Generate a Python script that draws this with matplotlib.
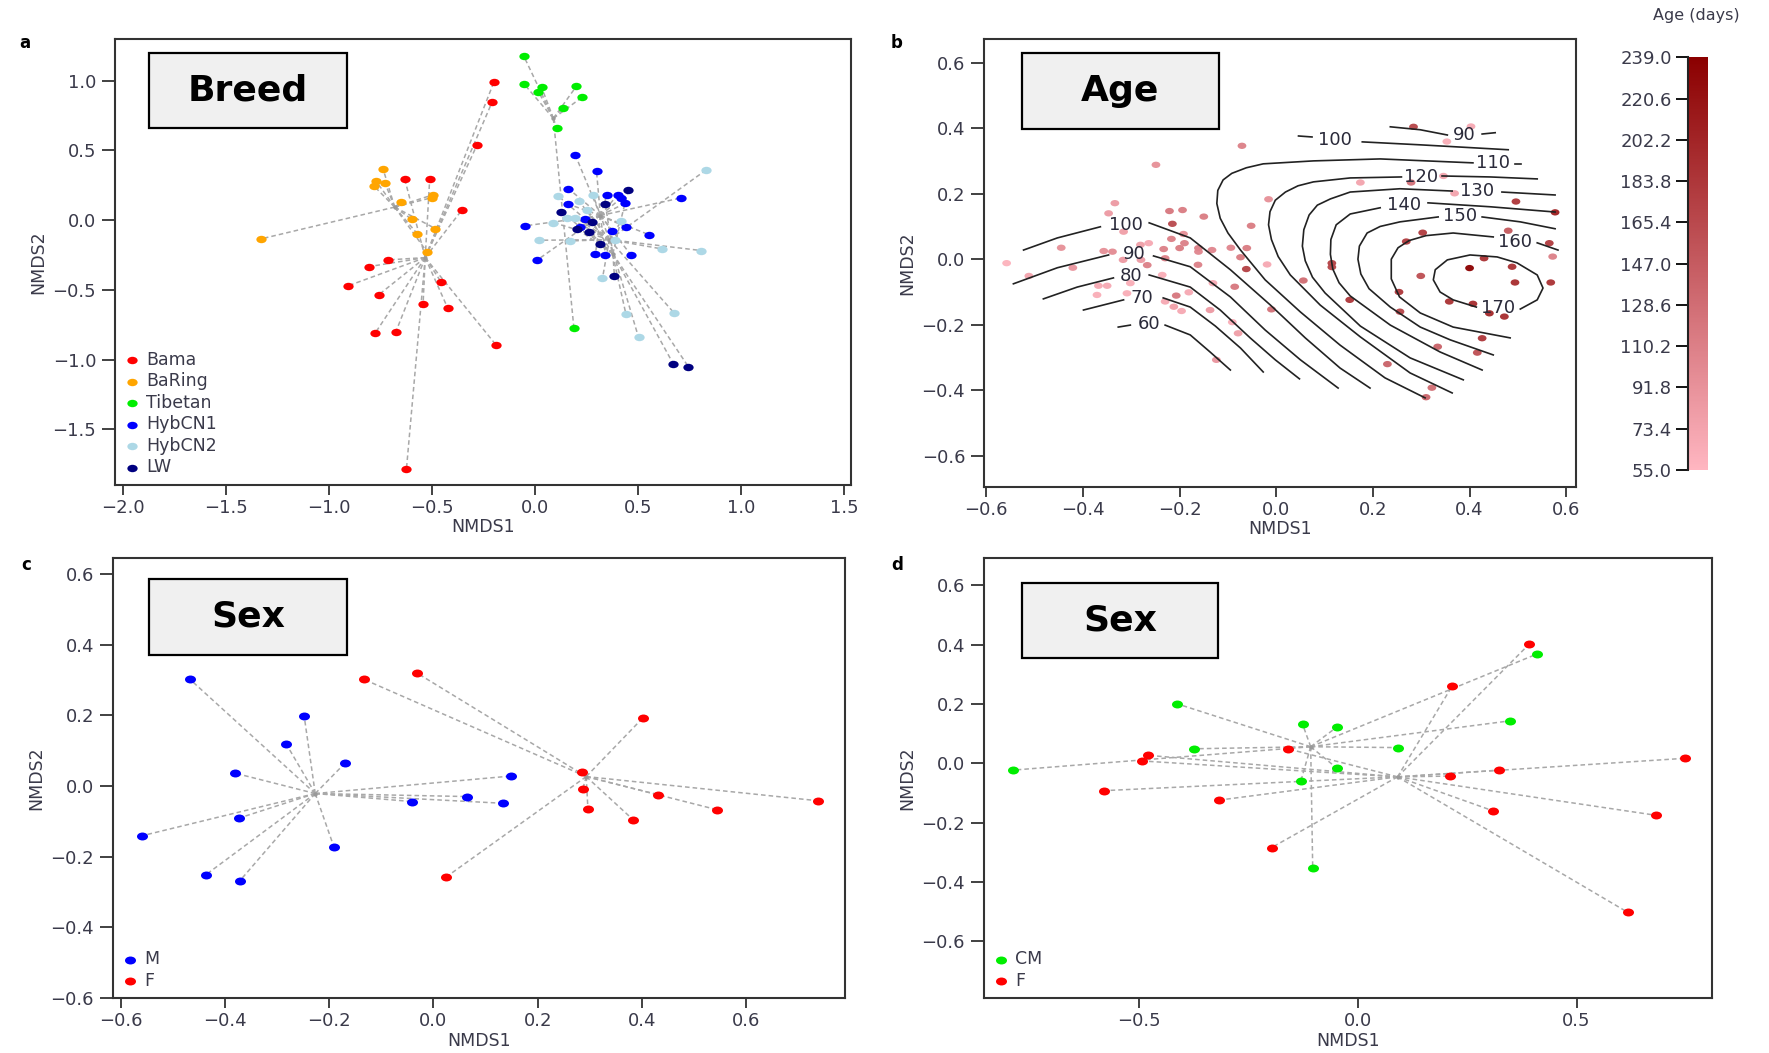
import matplotlib
matplotlib.use("Agg")
import matplotlib.pyplot as plt
import numpy as np
from matplotlib.cm import ScalarMappable
from matplotlib.colors import LinearSegmentedColormap, Normalize
from matplotlib.markers import MarkerStyle
from matplotlib.patches import Rectangle
from matplotlib.path import Path
from matplotlib.ticker import FuncFormatter
from matplotlib.transforms import Affine2D

plt.rcParams["font.family"] = ["DejaVu Sans"]

# ---------------- panel a: breed ----------------
BREEDS = ["Bama", "BaRing", "Tibetan", "HybCN1", "HybCN2", "LW"]
BREED_COLORS = ["#ff0000", "#ffa500", "#00ee00", "#0000ff", "#add8e6", "#000080"]

BAMA_X = [-0.633, -0.512, -0.713, -0.806, -0.910, -0.760, -0.456, -0.544, -0.424,
          -0.777, -0.676, -0.625, -0.201, -0.209, -0.282, -0.356, -0.190]
BAMA_Y = [0.294, 0.294, -0.285, -0.333, -0.472, -0.536, -0.445, -0.603, -0.632,
          -0.811, -0.800, -1.788, 0.988, 0.847, 0.540, 0.072, -0.895]
BARING_X = [-0.738, -0.774, -0.729, -0.783, -0.496, -0.500, -0.650, -0.600, -0.573,
            -0.485, -0.525, -1.330]
BARING_Y = [0.366, 0.284, 0.266, 0.246, 0.182, 0.162, 0.131, 0.007, -0.096,
            -0.060, -0.228, -0.134]
TIBETAN_X = [-0.056, -0.053, 0.031, 0.015, 0.200, 0.229, 0.137, 0.105, 0.188]
TIBETAN_Y = [1.180, 0.976, 0.955, 0.923, 0.960, 0.883, 0.808, 0.660, -0.771]
HYB1_X = [0.196, 0.298, 0.161, 0.349, 0.401, 0.417, 0.438, 0.161, 0.710, -0.050,
          0.240, 0.220, 0.375, 0.443, 0.554, 0.011, 0.293, 0.341, 0.465]
HYB1_Y = [0.464, 0.352, 0.227, 0.184, 0.184, 0.158, 0.122, 0.115, 0.160, -0.041,
          0.007, -0.046, -0.075, -0.050, -0.105, -0.285, -0.242, -0.247, -0.249]
HYB2_X = [0.829, 0.111, 0.280, 0.213, 0.253, 0.156, 0.196, 0.088, 0.419, 0.019,
          0.169, 0.390, 0.615, 0.807, 0.327, 0.441, 0.673, 0.502]
HYB2_Y = [0.359, 0.174, 0.184, 0.136, 0.074, 0.019, 0.019, -0.017, -0.005, -0.144,
          -0.149, -0.144, -0.206, -0.218, -0.416, -0.675, -0.663, -0.840]
LW_X = [0.451, 0.341, 0.127, 0.277, 0.201, 0.261, 0.317, 0.385, 0.670, 0.744]
LW_Y = [0.215, 0.117, 0.062, -0.010, -0.060, -0.082, -0.172, -0.400, -1.029, -1.051]

# ---------------- panel b: age ----------------
AGE_X = [-0.558, -0.512, -0.445, -0.421, -0.368, -0.350, -0.371, -0.347, -0.334, -0.357,
         -0.339, -0.317, -0.316, -0.302, -0.309, -0.281, -0.264, -0.280, -0.267, -0.249,
         -0.233, -0.230, -0.236, -0.230, -0.221, -0.215, -0.217, -0.194, -0.200, -0.190,
         -0.192, -0.207, -0.212, -0.196, -0.181, -0.161, -0.161, -0.162, -0.150, -0.133,
         -0.131, -0.137, -0.124, -0.094, -0.071, -0.074, -0.086, -0.091, -0.079, -0.061,
         -0.052, -0.062, -0.016, -0.019, -0.010, 0.056, 0.115, 0.115, 0.152, 0.256,
         0.230, 0.310, 0.284, 0.403, 0.353, 0.174, 0.346, 0.279, 0.369, 0.496,
         0.577, 0.480, 0.565, 0.572, 0.303, 0.269, 0.299, 0.400, 0.430, 0.488,
         0.494, 0.568, 0.254, 0.358, 0.407, 0.441, 0.472, 0.426, 0.334, 0.416, 0.322]
AGE_Y = [-0.012, -0.051, 0.035, -0.026, -0.081, -0.081, -0.109, 0.140, 0.171, 0.025,
         0.023, -0.002, 0.084, -0.073, -0.104, 0.044, 0.049, -0.002, -0.018, 0.288,
         0.031, 0.003, -0.048, -0.129, 0.147, 0.108, 0.062, 0.150, 0.034, 0.049,
         0.077, -0.111, -0.145, -0.158, -0.101, 0.034, 0.023, -0.017, 0.130, 0.028,
         -0.073, -0.155, -0.307, 0.035, 0.346, 0.006, -0.084, -0.192, -0.226, 0.034,
         0.102, -0.030, 0.183, -0.016, -0.153, -0.065, -0.012, -0.024, -0.124, -0.160,
         -0.320, -0.421, 0.404, 0.405, 0.359, 0.234, 0.254, 0.234, 0.201, 0.176,
         0.143, 0.087, 0.049, 0.008, 0.081, 0.054, -0.051, -0.027, 0.003, -0.023,
         -0.071, -0.071, -0.100, -0.129, -0.136, -0.165, -0.175, -0.241, -0.267, -0.285, -0.392]
AGE_DAYS = [60, 75, 95, 90, 70, 70, 65, 85, 85, 95,
            100, 85, 80, 65, 65, 80, 70, 85, 110, 95,
            110, 110, 65, 70, 120, 165, 110, 115, 115, 110,
            95, 120, 80, 70, 70, 110, 105, 110, 115, 105,
            70, 85, 90, 105, 110, 115, 120, 65, 80, 115,
            115, 175, 95, 70, 125, 130, 175, 170, 185, 170,
            140, 140, 170, 70, 65, 75, 75, 125, 75, 185,
            210, 150, 180, 110, 180, 180, 160, 239, 190, 190,
            195, 190, 185, 190, 195, 200, 195, 185, 140, 160, 130]
AGE_TICKS = [55.0, 73.4, 91.8, 110.2, 128.6, 147.0, 165.4, 183.8, 202.2, 220.6, 239.0]

# fitted-surface contour lines: one list of segments per level
C60 = [[(-0.327, -0.207), (-0.302, -0.201)],
       [(-0.230, -0.201), (-0.178, -0.231), (-0.137, -0.283), (-0.095, -0.338)]]
C70 = [[(-0.399, -0.155), (-0.316, -0.124)],
       [(-0.234, -0.118), (-0.178, -0.146), (-0.126, -0.204), (-0.074, -0.271), (-0.027, -0.344)]]
C80 = [[(-0.482, -0.121), (-0.412, -0.085), (-0.337, -0.057)],
       [(-0.263, -0.048), (-0.178, -0.085), (-0.116, -0.155), (-0.054, -0.240),
        (-0.002, -0.307), (0.048, -0.365)]]
C90 = [[(-0.544, -0.075), (-0.453, -0.026), (-0.347, 0.013)],
       [(-0.254, 0.010), (-0.178, -0.023), (-0.095, -0.115), (-0.023, -0.216),
        (0.050, -0.307), (0.128, -0.393)],
       [(0.236, 0.404), (0.298, 0.395), (0.354, 0.379)],
       [(0.426, 0.382), (0.453, 0.386)]]
C100 = [[(-0.523, 0.028), (-0.453, 0.065), (-0.364, 0.099)],
        [(-0.263, 0.111), (-0.178, 0.065), (-0.095, -0.032), (-0.012, -0.140),
         (0.060, -0.240), (0.132, -0.332), (0.194, -0.393)],
        [(0.046, 0.376), (0.074, 0.373)],
        [(0.178, 0.358), (0.298, 0.349), (0.480, 0.334)]]
C110 = [[(0.308, -0.423), (0.225, -0.362), (0.132, -0.262), (0.050, -0.161), (-0.023, -0.063),
         (-0.074, 0.028), (-0.100, 0.080), (-0.116, 0.125), (-0.123, 0.170), (-0.121, 0.210),
         (-0.110, 0.242), (-0.092, 0.262), (-0.062, 0.279), (-0.027, 0.291), (0.077, 0.300),
         (0.215, 0.306), (0.407, 0.294)],
        [(0.494, 0.291), (0.507, 0.291)]]
C120 = [[(0.364, -0.408), (0.277, -0.347), (0.174, -0.237), (0.091, -0.140), (0.029, -0.048),
         (0.004, 0.008), (-0.010, 0.060), (-0.016, 0.105), (-0.013, 0.145), (-0.002, 0.180),
         (0.019, 0.205), (0.045, 0.224), (0.077, 0.236), (0.153, 0.248), (0.259, 0.251)],
        [(0.343, 0.254), (0.443, 0.251), (0.540, 0.245)]]
C130 = [[(0.387, -0.368), (0.277, -0.301), (0.174, -0.204), (0.101, -0.103), (0.075, -0.055),
         (0.060, -0.005), (0.054, 0.040), (0.057, 0.090), (0.068, 0.135), (0.085, 0.165),
         (0.112, 0.184), (0.153, 0.205), (0.256, 0.215), (0.364, 0.208)],
        [(0.467, 0.205), (0.577, 0.196)]]
C140 = [[(0.426, -0.338), (0.339, -0.283), (0.236, -0.201), (0.153, -0.112), (0.130, -0.072),
         (0.117, -0.030), (0.112, 0.015), (0.113, 0.060), (0.124, 0.105), (0.153, 0.138),
         (0.215, 0.157)],
        [(0.314, 0.172), (0.443, 0.160), (0.577, 0.144)]]
C150 = [[(0.449, -0.292), (0.360, -0.246), (0.298, -0.207), (0.236, -0.146), (0.192, -0.090),
         (0.175, -0.045), (0.169, 0.000), (0.172, 0.040), (0.188, 0.080), (0.215, 0.100),
         (0.256, 0.114), (0.335, 0.129)],
        [(0.426, 0.129), (0.505, 0.114), (0.577, 0.093)]]
C160 = [[(0.484, -0.240), (0.366, -0.207), (0.298, -0.164), (0.255, -0.115), (0.238, -0.060),
         (0.238, 0.000), (0.252, 0.035), (0.275, 0.057), (0.310, 0.072), (0.366, 0.080), (0.449, 0.068)],
        [(0.540, 0.050), (0.583, 0.028)]]
C170 = [[(0.505, -0.152), (0.540, -0.124), (0.552, -0.088), (0.540, -0.048), (0.498, -0.011),
         (0.457, 0.007), (0.401, 0.013), (0.354, -0.002), (0.329, -0.032), (0.325, -0.063),
         (0.339, -0.100), (0.366, -0.124), (0.401, -0.140), (0.414, -0.146)]]
CONTOURS = [C60, C70, C80, C90, C100, C110, C120, C130, C140, C150, C160, C170]
CONTOUR_LABELS = ["60", "70", "80", "90", "100", "90", "100", "110", "120", "130",
                  "140", "150", "160", "170"]
CONTOUR_LABEL_X = [-0.263, -0.279, -0.300, -0.294, -0.312, 0.389, 0.122, 0.449, 0.300,
                   0.416, 0.265, 0.381, 0.494, 0.459]
CONTOUR_LABEL_Y = [-0.198, -0.118, -0.051, 0.016, 0.105, 0.379, 0.364, 0.294, 0.251,
                   0.208, 0.166, 0.132, 0.053, -0.149]

# ---------------- panel c: sex (M / F) ----------------
C_M_X = [-0.467, -0.248, -0.282, -0.170, -0.380, -0.373, -0.559, -0.191, -0.437, -0.371,
         -0.042, 0.148, 0.065, 0.133]
C_M_Y = [0.302, 0.199, 0.118, 0.064, 0.036, -0.091, -0.141, -0.172, -0.252, -0.268,
         -0.044, 0.028, -0.030, -0.049]
C_F_X = [-0.134, -0.031, 0.024, 0.401, 0.284, 0.286, 0.296, 0.431, 0.543, 0.738, 0.383]
C_F_Y = [0.302, 0.319, -0.258, 0.192, 0.040, -0.009, -0.064, -0.025, -0.067, -0.042, -0.096]

# ---------------- panel d: sex (CM / F) ----------------
D_CM_X = [-0.414, -0.789, -0.374, -0.126, -0.048, -0.048, -0.130, -0.103, 0.092, 0.347, 0.409]
D_CM_Y = [0.201, -0.023, 0.049, 0.131, 0.122, -0.016, -0.059, -0.354, 0.053, 0.143, 0.368]
D_F_X = [-0.479, -0.494, -0.579, -0.317, -0.160, -0.197, 0.392, 0.216, 0.211, 0.323,
         0.749, 0.309, 0.681, 0.617]
D_F_Y = [0.027, 0.008, -0.092, -0.124, 0.049, -0.284, 0.402, 0.261, -0.043, -0.023,
         0.017, -0.160, -0.175, -0.502]

TICK_COLOR = "#3a3a4a"
SPIDER_COLOR = "#a8a8a8"
DOT = MarkerStyle(Path.unit_circle().transformed(Affine2D().scale(1.0, 0.72)))


def minus_fmt(v, _pos):
    return f"{v:.1f}".replace("-", "\u2212")


def style_axes(ax, xlim, ylim, xticks, yticks):
    ax.set_xlim(xlim)
    ax.set_ylim(ylim)
    ax.set_xticks(xticks)
    ax.set_yticks(yticks)
    ax.xaxis.set_major_formatter(FuncFormatter(minus_fmt))
    ax.yaxis.set_major_formatter(FuncFormatter(minus_fmt))
    for sp in ax.spines.values():
        sp.set_linewidth(1.5)
        sp.set_color("#333333")
    ax.tick_params(axis="x", length=7, width=1.3, pad=3, labelsize=13,
                   labelcolor=TICK_COLOR, color="#333333")
    ax.tick_params(axis="y", length=9.5, width=1.3, pad=4, labelsize=13,
                   labelcolor=TICK_COLOR, color="#333333")
    ax.set_xlabel("NMDS1", fontsize=12.5, color=TICK_COLOR, labelpad=1)
    ax.set_ylabel("NMDS2", fontsize=12.5, color=TICK_COLOR, labelpad=4)


def title_box(ax, text, x0, y0, x1, y1):
    ax.add_patch(Rectangle((x0, y0), x1 - x0, y1 - y0, transform=ax.transAxes,
                           facecolor="#f0f0f0", edgecolor="black", lw=1.6, zorder=5))
    ax.text((x0 + x1) / 2, (y0 + y1) / 2, text, transform=ax.transAxes, ha="center",
            va="center", fontsize=26, fontweight="bold", zorder=6)


def draw_spider(ax, xs, ys, color, label, size):
    cx, cy = np.mean(xs), np.mean(ys)
    for x, y in zip(xs, ys):
        ax.plot([cx, x], [cy, y], color=SPIDER_COLOR, lw=1.1, ls=(0, (3, 2)), zorder=1)
    ax.scatter([cx], [cy], s=10, color="#999999", linewidths=0, zorder=2)
    ax.scatter(xs, ys, s=size, color=color, marker=DOT, linewidths=0, zorder=3, label=label)


def add_legend(ax):
    ax.legend(loc="lower left", frameon=False, fontsize=12.5, handletextpad=0.3,
              labelspacing=0.2, borderaxespad=0.2, handlelength=1.0, borderpad=0.3,
              labelcolor=TICK_COLOR)


fig = plt.figure(figsize=(17.69, 10.53), dpi=100)

# panel a
ax_a = fig.add_axes([0.0650, 0.5394, 0.4161, 0.4236])
groups = [(BAMA_X, BAMA_Y), (BARING_X, BARING_Y), (TIBETAN_X, TIBETAN_Y),
          (HYB1_X, HYB1_Y), (HYB2_X, HYB2_Y), (LW_X, LW_Y)]
for (gx, gy), color, name in zip(groups, BREED_COLORS, BREEDS):
    draw_spider(ax_a, gx, gy, color, name, 55)
style_axes(ax_a, (-2.04, 1.534), (-1.90, 1.30), np.arange(-2.0, 1.51, 0.5), np.arange(-1.5, 1.01, 0.5))
title_box(ax_a, "Breed", 0.046, 0.80, 0.315, 0.969)
add_legend(ax_a)

# panel b
ax_b = fig.add_axes([0.5562, 0.5378, 0.3349, 0.4252])
cmap = LinearSegmentedColormap.from_list("age", ["#ffb6c1", "#8b0000"])
norm = Normalize(vmin=AGE_TICKS[0], vmax=AGE_TICKS[-1])
ax_b.scatter(AGE_X, AGE_Y, c=AGE_DAYS, cmap=cmap, norm=norm, s=40, marker=DOT,
             linewidths=0, alpha=0.95, zorder=2)
for level in CONTOURS:
    for seg in level:
        xs, ys = zip(*seg)
        ax_b.plot(xs, ys, color="#222222", lw=1.2, zorder=3, solid_joinstyle="round")
for lab, lx, ly in zip(CONTOUR_LABELS, CONTOUR_LABEL_X, CONTOUR_LABEL_Y):
    ax_b.text(lx, ly, lab, ha="center", va="center", fontsize=13, color="#2a2a3a", zorder=4)
style_axes(ax_b, (-0.605, 0.621), (-0.694, 0.672), np.arange(-0.6, 0.61, 0.2), np.arange(-0.6, 0.61, 0.2))
title_box(ax_b, "Age", 0.064, 0.80, 0.396, 0.969)

# colorbar
cax = fig.add_axes([0.9540, 0.5537, 0.0117, 0.3919])
cb = fig.colorbar(ScalarMappable(norm=norm, cmap=cmap), cax=cax, ticks=AGE_TICKS)
cb.outline.set_visible(False)
cax.yaxis.set_ticks_position("left")
cax.yaxis.set_label_position("left")
cb.set_ticklabels([f"{t:.1f}" for t in AGE_TICKS])
cax.tick_params(length=8.5, width=1.3, labelsize=13, pad=3, labelcolor=TICK_COLOR)
cax.plot([0, 0], [0, 1], transform=cax.transAxes, color="#222222", lw=1.5, clip_on=False)
fig.text(0.959, 0.985, "Age (days)", ha="center", va="center", fontsize=11.5, color=TICK_COLOR)

# panel c
ax_c = fig.add_axes([0.0637, 0.0519, 0.4140, 0.4185])
draw_spider(ax_c, C_M_X, C_M_Y, "#0000ff", "M", 63)
draw_spider(ax_c, C_F_X, C_F_Y, "#ff0000", "F", 63)
style_axes(ax_c, (-0.615, 0.789), (-0.601, 0.646), np.arange(-0.6, 0.61, 0.2), np.arange(-0.6, 0.61, 0.2))
title_box(ax_c, "Sex", 0.050, 0.779, 0.320, 0.952)
add_legend(ax_c)

# panel d
ax_d = fig.add_axes([0.5561, 0.0519, 0.4115, 0.4185])
draw_spider(ax_d, D_CM_X, D_CM_Y, "#00ee00", "CM", 63)
draw_spider(ax_d, D_F_X, D_F_Y, "#ff0000", "F", 63)
style_axes(ax_d, (-0.855, 0.809), (-0.792, 0.693), [-0.5, 0.0, 0.5], np.arange(-0.6, 0.61, 0.2))
title_box(ax_d, "Sex", 0.052, 0.772, 0.322, 0.943)
add_legend(ax_d)

for letter, fx, fy in [("a", 0.014, 0.959), ("b", 0.507, 0.959), ("c", 0.015, 0.463), ("d", 0.507, 0.463)]:
    fig.text(fx, fy, letter, fontsize=12, fontweight="bold", ha="center", va="center")

fig.savefig("out.png", dpi=100)
